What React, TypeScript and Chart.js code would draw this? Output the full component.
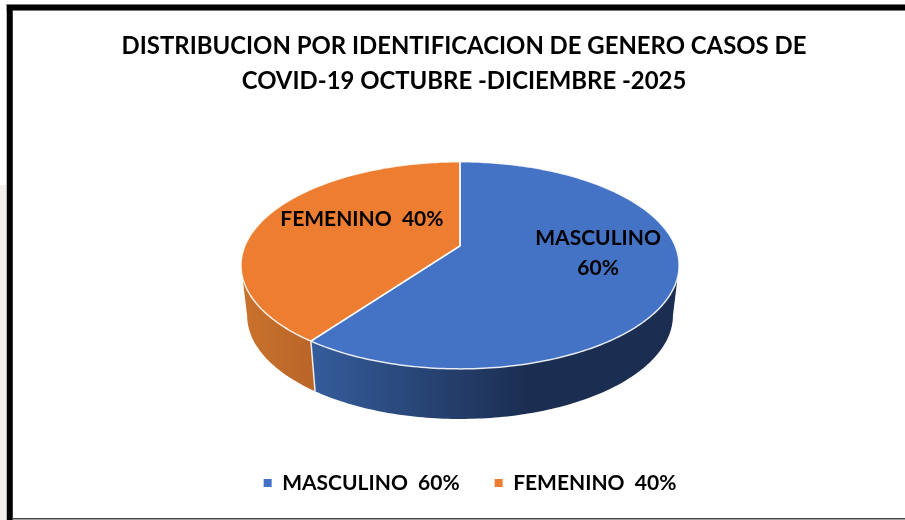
import React, { useEffect, useRef } from "react";
import { Chart, registerables } from "chart.js";

Chart.register(...registerables);

const categories = ["MASCULINO", "FEMENINO"];
const values = [60, 40];
const legendLabels = ["MASCULINO  60%", "FEMENINO  40%"];
const sliceLabels = [["MASCULINO", "60%"], ["FEMENINO  40%"]];
const topColors = ["#4472C4", "#ED7D31"];
const sideColors = [
  ["#355D9C", "#1B2D50"],
  ["#C9722D", "#BA6629"],
];
const titleLines = [
  "DISTRIBUCION POR IDENTIFICACION DE GENERO CASOS DE",
  "COVID-19 OCTUBRE -DICIEMBRE -2025",
];
const FONT = "Lato, Carlito, Calibri, sans-serif";

const pie3d = {
  id: "pie3d",
  afterLayout(chart: any) {
    chart.legend.left += 6;
    chart.legend.right += 6;
  },
  beforeDraw(chart: any) {
    const c = chart.ctx;
    c.save();
    c.fillStyle = "#fff";
    c.fillRect(0, 0, 905, 520);
    c.fillStyle = "#F1F0ED";
    c.fillRect(0, 185, 7, 335);
    c.fillStyle = "#777";
    c.fillRect(6.5, 4, 899, 7);
    c.fillRect(6.5, 4, 6.5, 516);
    c.fillStyle = "#000";
    c.fillRect(7, 5, 898, 5);
    c.fillRect(7, 5, 5.5, 515);
    c.fillStyle = "#444";
    c.fillRect(12, 518, 893, 1.5);
    c.restore();
  },
  beforeDatasetDraw(chart: any) {
    const c = chart.ctx;
    const arcs = chart.getDatasetMeta(0).data;
    const r = arcs[0].outerRadius;
    const px = arcs[0].x - 0.029 * r;
    const py = arcs[0].y - 0.4004 * r;
    const k = -0.188;
    const a = 1.572 * r;
    const b = 0.73 * r;
    const depth = 0.366 * r;
    const top = (phi: number): [number, number] => {
      const u = Math.cos(phi), v = Math.sin(phi), d = 1 + k * v;
      return [px + (a * u) / d, py + (b * v) / d];
    };
    const bottom = (phi: number): [number, number] => {
      const p = top(phi);
      return [px + (p[0] - px) * 0.972, p[1] + depth];
    };
    const samples = (s: number, e: number) => {
      const n = Math.max(8, Math.ceil((e - s) * 60));
      return Array.from({ length: n + 1 }, (_, i) => s + ((e - s) * i) / n);
    };
    const tangent = Math.asin(-k);
    c.save();
    arcs.forEach((el: any, i: number) => {
      const ph = samples(Math.max(el.startAngle, tangent), Math.min(el.endAngle, Math.PI - tangent));
      const g = i
        ? c.createLinearGradient(px - a, 0, px - 0.7 * a, 0)
        : c.createLinearGradient(px - 0.7 * a, 0, px + 0.33 * a, 0);
      g.addColorStop(0, sideColors[i][0]);
      g.addColorStop(1, sideColors[i][1]);
      c.beginPath();
      ph.forEach((t, j) => {
        const p = top(t);
        j ? c.lineTo(p[0], p[1]) : c.moveTo(p[0], p[1]);
      });
      [...ph].reverse().forEach((t) => {
        const p = bottom(t);
        c.lineTo(p[0], p[1]);
      });
      c.closePath();
      c.fillStyle = g;
      c.fill();
    });
    arcs.forEach((el: any) => {
      const p = top(el.endAngle), q = bottom(el.endAngle);
      if (Math.sin(el.endAngle) > 0) {
        c.beginPath();
        c.moveTo(p[0], p[1]);
        c.lineTo(q[0], q[1]);
        c.strokeStyle = "rgba(255,255,255,0.85)";
        c.lineWidth = 1.5;
        c.stroke();
      }
    });
    arcs.forEach((el: any) => {
      c.beginPath();
      c.moveTo(px, py);
      samples(el.startAngle, el.endAngle).forEach((t) => {
        const p = top(t);
        c.lineTo(p[0], p[1]);
      });
      c.closePath();
      c.fillStyle = el.options.backgroundColor;
      c.fill();
    });
    arcs.forEach((el: any) => {
      c.beginPath();
      c.moveTo(px, py);
      samples(el.startAngle, el.endAngle).forEach((t) => {
        const p = top(t);
        c.lineTo(p[0], p[1]);
      });
      c.closePath();
      c.strokeStyle = "rgba(255,255,255,0.85)";
      c.lineWidth = 1.5;
      c.lineJoin = "round";
      c.stroke();
    });
    c.fillStyle = "#000";
    c.font = `bold 21px ${FONT}`;
    c.textAlign = "center";
    c.textBaseline = "middle";
    const spots = [[1.009, -0.0585], [-0.717, -0.197]];
    arcs.forEach((_: any, i: number) => {
      const lines = sliceLabels[i];
      lines.forEach((t, j) => {
        c.fillText(t, px + spots[i][0] * r, py + spots[i][1] * r + j * 30);
      });
    });
    c.restore();
    return false;
  },
};

export default function App() {
  const ref = useRef<HTMLCanvasElement | null>(null);
  useEffect(() => {
    document.body.style.margin = "0";
    const chart = new Chart(ref.current as HTMLCanvasElement, {
      type: "pie",
      data: {
        labels: categories,
        datasets: [{ data: values, backgroundColor: topColors, borderWidth: 0 }],
      },
      plugins: [pie3d],
      options: {
        animation: false,
        responsive: false,
        rotation: 0,
        layout: { padding: { left: 23, right: 0, top: 29, bottom: 16.5 } },
        plugins: {
          tooltip: { enabled: false },
          title: {
            display: true,
            text: titleLines,
            color: "#000",
            font: { family: FONT, size: 23.9, weight: "bold", lineHeight: 1.46 },
            padding: { top: 0, bottom: 65 },
          },
          legend: {
            position: "bottom",
            labels: {
              color: "#000",
              font: { family: FONT, size: 21, weight: "bold" },
              boxWidth: 8,
              boxHeight: 8,
              padding: 35,
              generateLabels: () =>
                legendLabels.map((text, i) => ({
                  text,
                  fillStyle: topColors[i],
                  strokeStyle: topColors[i],
                  lineWidth: 0,
                  index: i,
                  hidden: false,
                })),
            },
          },
        },
      },
    } as any);
    return () => chart.destroy();
  }, []);
  return <canvas ref={ref} width={905} height={520} style={{ display: "block" }} />;
}
